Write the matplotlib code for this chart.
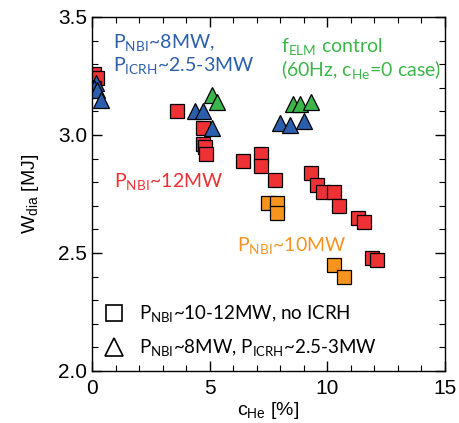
import matplotlib
matplotlib.use("Agg")
import matplotlib.pyplot as plt
from matplotlib.ticker import MultipleLocator, FormatStrFormatter

plt.rcParams["font.family"] = ["Lato", "DejaVu Sans"]
plt.rcParams["mathtext.default"] = "regular"

# red squares: P_NBI ~ 12 MW, no ICRH
red_x = [0.1, 0.2, 0.1, 3.6, 4.7, 4.7, 4.8, 4.85, 6.4, 7.2, 7.2, 7.8,
         9.3, 9.55, 9.8, 10.3, 10.5, 11.3, 11.55, 11.9, 12.1]
red_y = [3.26, 3.24, 3.20, 3.10, 3.03, 2.96, 2.95, 2.92, 2.89, 2.92, 2.87, 2.81,
         2.84, 2.79, 2.76, 2.76, 2.70, 2.65, 2.63, 2.48, 2.47]
# orange squares: P_NBI ~ 10 MW
orange_x = [7.5, 7.85, 7.85, 10.3, 10.7]
orange_y = [2.71, 2.71, 2.67, 2.45, 2.40]
# blue triangles: P_NBI ~ 8 MW, P_ICRH ~ 2.5-3 MW
blue_x = [0.15, 0.1, 0.2, 0.4, 4.4, 4.7, 5.1, 8.0, 8.4, 9.0]
blue_y = [3.22, 3.20, 3.19, 3.15, 3.10, 3.10, 3.03, 3.05, 3.04, 3.06]
# green triangles: f_ELM control
green_x = [5.1, 5.3, 8.55, 8.85, 9.3]
green_y = [3.17, 3.14, 3.13, 3.13, 3.14]

RED, ORANGE, BLUE, GREEN = "#ee3135", "#f7941e", "#2b5fae", "#3cb54a"
HELV = ["Liberation Sans", "DejaVu Sans"]

fig = plt.figure(figsize=(4.6, 4.23), dpi=100)
ax = fig.add_axes([0.2, 0.123, 0.767, 0.837])

sq = dict(marker="s", ls="none", ms=10.5, mec="black", mew=0.9)
tr = dict(marker="^", ls="none", ms=11, mec="black", mew=0.9)
ax.plot(red_x, red_y, mfc=RED, **sq)
ax.plot(orange_x, orange_y, mfc=ORANGE, **sq)
ax.plot(blue_x, blue_y, mfc=BLUE, **tr)
ax.plot(green_x, green_y, mfc=GREEN, **tr)

ax.set_xlim(0, 15)
ax.set_ylim(2.0, 3.5)
ax.xaxis.set_major_locator(MultipleLocator(5))
ax.xaxis.set_minor_locator(MultipleLocator(1))
ax.yaxis.set_major_locator(MultipleLocator(0.5))
ax.yaxis.set_minor_locator(MultipleLocator(0.1))
ax.yaxis.set_major_formatter(FormatStrFormatter("%.1f"))
ax.tick_params(which="both", direction="in", top=True, right=True,
               labelsize=15, labelfontfamily="Liberation Sans")
ax.tick_params(which="major", length=7, width=1)
ax.tick_params(which="minor", length=4, width=0.8)
ax.tick_params(axis="x", pad=6)
ax.tick_params(axis="y", pad=3.5)
for s in ax.spines.values():
    s.set_linewidth(1)

ax.set_xlabel("c$_{He}$ [%]", fontsize=14, labelpad=1, family=HELV)
ax.set_ylabel("W$_{dia}$ [MJ]", fontsize=14, labelpad=12, family=HELV)

ax.text(0.9, 3.37, "P$_{NBI}$~8MW,", color=BLUE, fontsize=14)
ax.text(0.9, 3.27, "P$_{ICRH}$~2.5-3MW", color=BLUE, fontsize=14)
ax.text(8.05, 3.35, "f$_{ELM}$ control", color=GREEN, fontsize=14)
ax.text(8.05, 3.25, "(60Hz, c$_{He}$=0 case)", color=GREEN, fontsize=14)
ax.text(0.95, 2.78, "P$_{NBI}$~12MW", color=RED, fontsize=14)
ax.text(6.15, 2.51, "P$_{NBI}$~10MW", color=ORANGE, fontsize=14)

ax.plot([0.95], [2.245], marker="s", ms=11.5, mfc="white", mec="black", mew=1.2)
ax.text(2.0, 2.245, "P$_{NBI}$~10-12MW, no ICRH", fontsize=13.5, va="center")
ax.plot([0.95], [2.1], marker="^", ms=13, mfc="white", mec="black", mew=1.2)
ax.text(2.0, 2.1, "P$_{NBI}$~8MW, P$_{ICRH}$~2.5-3MW", fontsize=13.5, va="center")

fig.savefig("out.png", dpi=100)
